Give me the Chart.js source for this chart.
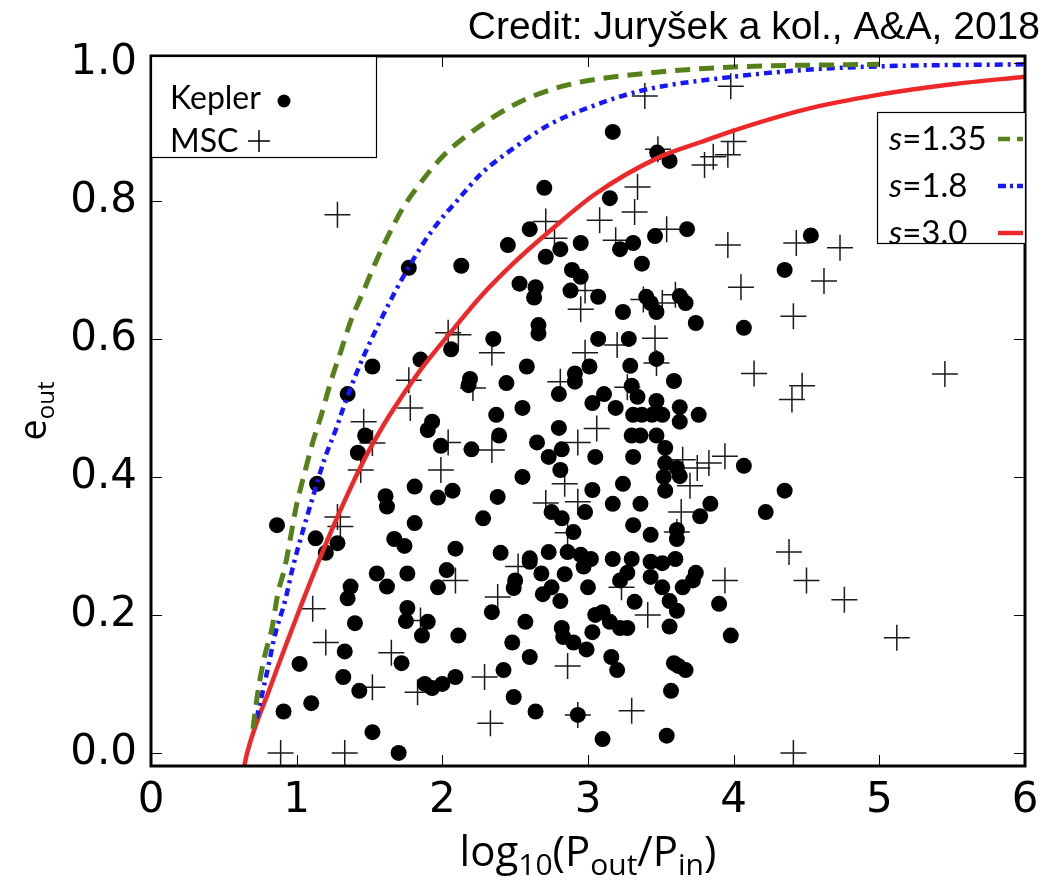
<!DOCTYPE html>
<html>
<head>
<meta charset="utf-8">
<script src="https://cdn.jsdelivr.net/npm/chart.js@4.4.1/dist/chart.umd.min.js"></script>
<style>
  html, body { margin: 0; padding: 0; background: #fff; }
  #wrap { width: 1052px; height: 880px; }
</style>
</head>
<body>
<div id="wrap"><canvas id="chart" width="1052" height="880"></canvas></div>
<script>
// log10(Pout/Pin), e_out pairs
const keplerPoints = [
  [1.77,0.703],
  [2.70,0.819],[2.60,0.759],[2.45,0.736],[2.95,0.739],[2.81,0.73],[2.71,0.719],[2.13,0.706],[2.89,0.70],
  [2.95,0.69],[2.53,0.68],[2.64,0.675],[2.63,0.66],[2.88,0.67],[2.66,0.62],[2.66,0.608],[2.35,0.60],[2.06,0.585],
  [3.475,0.87],[3.56,0.858],[3.15,0.804],[3.68,0.759],[3.46,0.749],[3.31,0.739],[3.22,0.73],[3.37,0.709],
  [4.07,0.616],[3.07,0.661],[3.24,0.639],[3.40,0.661],[3.43,0.652],[3.47,0.639],[3.63,0.662],[3.67,0.652],
  [3.74,0.623],[3.07,0.60],[3.28,0.60],[3.17,0.90],
  [1.52,0.56],[1.35,0.52],[1.47,0.46],[1.42,0.435],[1.85,0.57],[1.14,0.39],[1.61,0.372],[1.62,0.357],
  [1.81,0.386],[0.865,0.33],[1.13,0.311],[1.28,0.304],[1.20,0.29],[1.67,0.31],[1.74,0.30],[1.81,0.333],
  [2.58,0.56],[2.19,0.542],[2.18,0.533],[2.44,0.536],[2.91,0.55],[2.91,0.538],[3.01,0.56],[2.80,0.52],
  [3.03,0.507],[2.55,0.50],[2.37,0.49],[1.93,0.48],[1.90,0.468],[2.39,0.46],[2.80,0.471],[1.99,0.445],
  [2.20,0.44],[2.65,0.45],[2.82,0.44],[2.73,0.429],[3.05,0.429],[2.81,0.41],[2.55,0.40],[2.07,0.38],
  [1.97,0.37],[2.38,0.371],[3.03,0.381],[2.75,0.349],[2.82,0.34],[2.98,0.349],[2.28,0.34],[2.90,0.32],
  [2.09,0.296],[2.40,0.29],[2.60,0.282],[2.73,0.291],[2.86,0.291],[2.95,0.287],[3.02,0.281],
  [3.29,0.561],[3.47,0.571],[3.59,0.539],[3.30,0.532],[3.34,0.516],[3.11,0.52],[3.19,0.50],[3.47,0.51],
  [3.63,0.501],[3.63,0.48],[3.76,0.49],[3.31,0.49],[3.37,0.49],[3.44,0.49],[3.51,0.49],[3.30,0.46],
  [3.36,0.46],[3.47,0.46],[3.53,0.442],[3.31,0.429],[3.53,0.42],[3.61,0.413],[3.63,0.401],[3.52,0.40],
  [3.53,0.38],[4.07,0.416],[3.24,0.39],[3.17,0.361],[3.36,0.361],[3.84,0.361],[3.77,0.343],[4.22,0.349],
  [3.31,0.33],[3.43,0.316],[3.61,0.323],[3.61,0.31],[3.17,0.281],[3.30,0.281],[3.43,0.277],[3.51,0.275],[3.60,0.281],
  [1.37,0.241],[1.35,0.224],[1.55,0.26],[1.62,0.241],[1.76,0.26],[1.76,0.21],[1.75,0.191],[1.86,0.17],
  [1.90,0.19],[1.40,0.188],[1.33,0.147],[1.02,0.129],[1.72,0.13],[1.32,0.11],[1.43,0.09],[1.10,0.072],
  [0.91,0.06],[1.52,0.03],[1.70,0.0],
  [1.88,0.10],[1.93,0.094],[2.0,0.10],[2.09,0.11],[2.03,0.265],[1.97,0.24],[2.34,0.204],[2.50,0.25],
  [2.49,0.239],[2.60,0.277],[2.68,0.26],[2.84,0.259],[2.97,0.27],[2.75,0.24],[2.69,0.23],[2.81,0.22],
  [3.0,0.24],[2.57,0.19],[2.11,0.17],[2.48,0.16],[2.60,0.139],[2.82,0.181],[2.83,0.168],[2.90,0.16],
  [2.99,0.15],[3.05,0.2],[3.03,0.175],[2.42,0.12],[2.49,0.081],[2.64,0.06],[2.93,0.055],
  [3.74,0.261],[3.72,0.25],[3.65,0.24],[3.27,0.261],[3.22,0.25],[3.43,0.255],[3.51,0.24],[3.32,0.219],
  [3.56,0.22],[3.61,0.206],[3.10,0.204],[3.15,0.19],[3.22,0.181],[3.27,0.181],[3.56,0.183],[3.90,0.216],
  [3.98,0.17],[3.16,0.139],[3.20,0.12],[3.59,0.13],[3.67,0.12],[3.62,0.126],[3.57,0.09],[3.10,0.02],[3.54,0.025],
  [4.53,0.75],[4.35,0.70],[4.35,0.38]
];

const mscPoints = [
  [1.28,0.78],[2.71,0.77],[2.77,0.746],[2.98,0.67],[2.95,0.643],[2.04,0.609],[2.11,0.606],[2.34,0.58],[2.98,0.58],
  [3.80,0.852],[3.86,0.864],[3.96,0.867],[4.0,0.886],[3.34,0.82],[3.32,0.784],[3.08,0.772],[3.54,0.759],
  [3.19,0.743],[3.96,0.736],[4.05,0.675],[3.38,0.657],[3.51,0.652],[3.60,0.664],[3.20,0.591],[3.46,0.601],
  [3.48,0.875],[3.39,0.952],[3.98,0.966],
  [1.46,0.48],[1.52,0.449],[1.44,0.41],[1.77,0.54],[1.78,0.50],[1.28,0.342],[1.30,0.328],
  [2.21,0.529],[2.81,0.538],[2.04,0.45],[2.34,0.439],[2.93,0.45],[3.06,0.47],[1.99,0.41],[2.84,0.39],
  [2.71,0.362],[2.93,0.364],[2.86,0.319],[2.52,0.27],
  [3.47,0.565],[4.14,0.55],[3.27,0.53],[3.65,0.425],[3.75,0.413],[3.83,0.42],[3.94,0.43],[3.70,0.387],
  [3.64,0.349],[3.61,0.32],
  [1.85,0.192],[1.11,0.209],[1.20,0.16],[1.65,0.145],[1.52,0.095],[1.83,0.088],[0.89,0.0],[1.33,0.0],
  [2.09,0.25],[2.38,0.226],[2.86,0.126],[2.29,0.11],[2.33,0.043],[2.93,0.055],
  [3.23,0.24],[3.41,0.2],[3.94,0.25],[3.30,0.061],
  [4.43,0.739],[4.73,0.732],[4.62,0.684],[4.41,0.633],[5.45,0.549],[4.47,0.532],[4.40,0.512],
  [4.38,0.291],[4.50,0.25],[4.76,0.222],[5.12,0.167],[4.41,0.0]
];

// stability limits
const curveS135 = [
  [0.70,0.035],[0.735,0.09],[0.78,0.14],[0.83,0.18],[0.87,0.23],[0.92,0.27],[1.0,0.36],[1.06,0.41],
  [1.11,0.45],[1.17,0.49],[1.23,0.535],[1.30,0.58],[1.37,0.625],[1.46,0.67],[1.54,0.71],[1.63,0.75],
  [1.73,0.79],[1.85,0.826],[2.0,0.864],[2.14,0.89],[2.5,0.94],[2.84,0.967],[3.4,0.985],[4.0,0.994],[5.0,0.998]
];
const curveS18 = [
  [0.725,0.05],[0.80,0.12],[0.85,0.17],[0.92,0.22],[0.975,0.27],[1.04,0.32],[1.11,0.37],[1.19,0.425],
  [1.28,0.475],[1.32,0.50],[1.41,0.55],[1.46,0.575],[1.56,0.62],[1.68,0.67],[1.80,0.715],[1.94,0.76],
  [2.10,0.80],[2.27,0.84],[2.48,0.875],[2.73,0.91],[3.0,0.935],[3.37,0.96],[4.0,0.98],[4.5,0.99],[5.0,0.995],[6.0,0.998]
];
const curveS30 = [
  [0.64,-0.02],[0.66,0.0],[0.82,0.096],[1.0,0.197],[1.14,0.272],[1.28,0.342],[1.435,0.413],[1.52,0.447],
  [1.64,0.49],[1.85,0.555],[2.04,0.605],[2.27,0.663],[2.50,0.712],[2.73,0.755],[3.05,0.81],[3.475,0.862],
  [3.77,0.885],[4.0,0.902],[4.5,0.933],[5.0,0.954],[5.5,0.969],[6.0,0.98]
];

const xTicks = [0, 1, 2, 3, 4, 5, 6];
const yTicks = [0.0, 0.2, 0.4, 0.6, 0.8, 1.0];
const curveLabels = ['1.35', '1.8', '3.0'];

const GREEN = '#55801a';
const BLUE = '#1616ff';
const RED = '#ee2828';
const tickFont = {family: 'DejaVu Sans', size: 42};

const toXY = pairs => pairs.map(([x, y]) => ({x, y}));

function lineSet(points, color, dash, width) {
  return {
    data: toXY(points),
    showLine: true,
    borderColor: color,
    borderWidth: width,
    borderDash: dash,
    pointRadius: 0,
    cubicInterpolationMode: 'monotone',
  };
}

function drawLabel(ctx, parts, x, y, size, subSize) {
  // text with subscripts, centred on x
  const widths = parts.map(([text, sub]) => {
    ctx.font = `${sub ? subSize : size}px "Open Sans"`;
    return ctx.measureText(text).width;
  });
  let cursor = x - widths.reduce((a, b) => a + b, 0) / 2;
  parts.forEach(([text, sub], i) => {
    ctx.font = `${sub ? subSize : size}px "Open Sans"`;
    ctx.fillText(text, cursor, sub ? y + size * 0.22 : y);
    cursor += widths[i];
  });
}

const decorations = {
  id: 'decorations',
  afterDraw(chart) {
    const {ctx, chartArea: area, scales} = chart;
    ctx.save();

    // inward tick marks on all four sides
    ctx.strokeStyle = '#000';
    ctx.lineWidth = 1;
    ctx.beginPath();
    xTicks.forEach(v => {
      const px = Math.round(scales.x.getPixelForValue(v)) + 0.5;
      ctx.moveTo(px, area.bottom); ctx.lineTo(px, area.bottom - 11);
      ctx.moveTo(px, area.top); ctx.lineTo(px, area.top + 11);
    });
    yTicks.forEach(v => {
      const py = Math.round(scales.y.getPixelForValue(v)) + 0.5;
      ctx.moveTo(area.left, py); ctx.lineTo(area.left + 11, py);
      ctx.moveTo(area.right, py); ctx.lineTo(area.right - 11, py);
    });
    ctx.stroke();

    // frame
    ctx.lineWidth = 3;
    ctx.strokeRect(area.left, area.top, area.right - area.left, area.bottom - area.top);

    // marker legend, top left
    ctx.fillStyle = '#fff';
    ctx.fillRect(area.left, area.top, 225, 101);
    ctx.lineWidth = 1.2;
    ctx.strokeRect(area.left + 0.5, area.top + 0.5, 225, 101);
    ctx.fillStyle = '#000';
    ctx.font = '32px Lato';
    ctx.textBaseline = 'alphabetic';
    ctx.textAlign = 'left';
    ctx.fillText('Kepler', area.left + 19, area.top + 53);
    ctx.fillText('MSC', area.left + 19, area.top + 96);
    ctx.beginPath();
    ctx.arc(area.left + 133, area.top + 45, 6.5, 0, Math.PI * 2);
    ctx.fill();
    ctx.lineWidth = 1.5;
    ctx.beginPath();
    ctx.moveTo(area.left + 97, area.top + 85); ctx.lineTo(area.left + 119, area.top + 85);
    ctx.moveTo(area.left + 108, area.top + 74); ctx.lineTo(area.left + 108, area.top + 96);
    ctx.stroke();

    // curve legend, top right
    const lx = area.right - 148, ly = area.top + 56;
    ctx.fillStyle = '#fff';
    ctx.fillRect(lx, ly, 148, 131);
    ctx.lineWidth = 1.2;
    ctx.strokeRect(lx + 0.5, ly + 0.5, 148, 131);
    const styles = [[GREEN, [12, 7]], [BLUE, [8, 4, 3, 4]], [RED, []]];
    curveLabels.forEach((label, i) => {
      const y = ly + 27 + i * 47;
      ctx.fillStyle = '#000';
      ctx.font = 'italic 33px Lato';
      ctx.fillText('s', lx + 12, y + 11);
      const sw = ctx.measureText('s').width;
      ctx.font = '33px Lato';
      ctx.fillText('=' + label, lx + 12 + sw, y + 11);
      ctx.strokeStyle = styles[i][0];
      ctx.setLineDash(styles[i][1]);
      ctx.lineWidth = 4.5;
      ctx.beginPath();
      ctx.moveTo(lx + 121, y); ctx.lineTo(lx + 146, y);
      ctx.stroke();
      ctx.setLineDash([]);
    });

    // axis titles
    ctx.fillStyle = '#000';
    ctx.textAlign = 'left';
    drawLabel(ctx, [['log', 0], ['10', 1], ['(P', 0], ['out', 1], ['/P', 0], ['in', 1], [')', 0]],
      (area.left + area.right) / 2, 866, 42, 30);
    ctx.translate(46, (area.top + area.bottom) / 2);
    ctx.rotate(-Math.PI / 2);
    drawLabel(ctx, [['e', 0], ['out', 1]], 0, 0, 38, 24);
    ctx.setTransform(1, 0, 0, 1, 0, 0);

    // credit line
    ctx.textAlign = 'right';
    ctx.font = '39px "Liberation Sans"';
    ctx.fillText('Credit: Juryšek a kol., A&A, 2018', 1040, 39);
    ctx.restore();
  },
};

new Chart(document.getElementById('chart'), {
  type: 'scatter',
  data: {
    datasets: [
      lineSet(curveS135, GREEN, [15, 9], 5),
      lineSet(curveS18, BLUE, [8, 5, 3, 5], 4.5),
      lineSet(curveS30, RED, [], 4.5),
      {
        data: toXY(keplerPoints),
        pointStyle: 'circle',
        pointRadius: 8,
        backgroundColor: '#000',
        borderWidth: 0,
      },
      {
        data: toXY(mscPoints),
        pointStyle: 'cross',
        pointRadius: 13,
        borderColor: '#1a1a1a',
        borderWidth: 1.5,
      },
    ],
  },
  options: {
    responsive: false,
    animation: false,
    events: [],
    layout: {padding: {top: 56, right: 27, left: 0, bottom: 0}},
    plugins: {legend: {display: false}, tooltip: {enabled: false}},
    scales: {
      x: {
        type: 'linear',
        min: 0,
        max: 6,
        grid: {display: false, drawTicks: false},
        border: {display: false},
        afterBuildTicks: scale => { scale.ticks = xTicks.map(value => ({value})); },
        afterFit: scale => { scale.height = 114; },
        ticks: {color: '#000', font: tickFont, padding: 10, callback: v => String(v)},
      },
      y: {
        type: 'linear',
        min: -0.019,
        max: 1.01,
        grid: {display: false, drawTicks: false},
        border: {display: false},
        afterBuildTicks: scale => { scale.ticks = yTicks.map(value => ({value})); },
        afterFit: scale => { scale.width = 151; },
        ticks: {color: '#000', font: tickFont, padding: 14, callback: v => v.toFixed(1)},
      },
    },
  },
  plugins: [decorations],
});
</script>
</body>
</html>
